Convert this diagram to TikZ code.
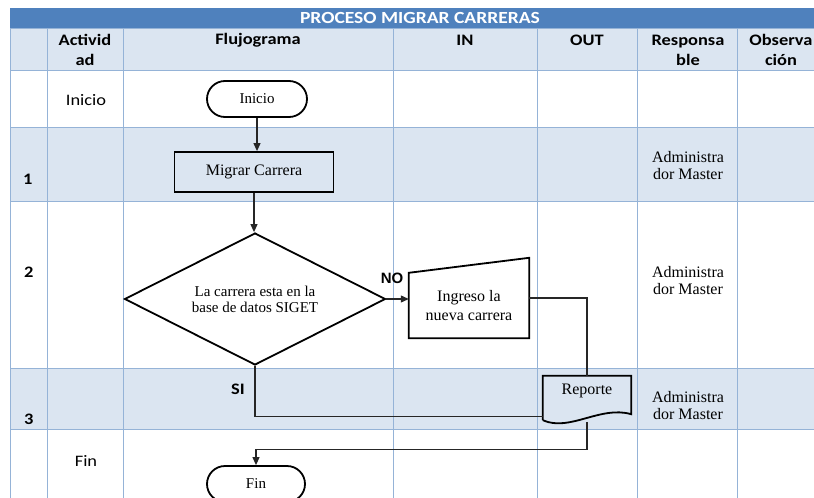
\documentclass[tikz,border=0pt]{standalone}
\usepackage{fontspec}
\setmainfont{Liberation Serif}
\newfontfamily\calfont[FakeStretch=1.15]{Carlito}
\newfontfamily\arialfont{Liberation Sans}
\usepackage{xcolor}
\definecolor{titlebar}{RGB}{79,129,189}
\definecolor{rowbg}{RGB}{219,229,241}
\definecolor{gridline}{RGB}{149,179,215}
\usetikzlibrary{shapes.geometric,arrows.meta,positioning,calc}
\newcommand{\hdrfont}{\calfont\bfseries\fontsize{16}{20}\selectfont}
\newcommand{\serifsize}{\fontsize{16}{17}\selectfont}

\begin{document}
\begin{tikzpicture}[
  x=1pt, y=-1pt,
  hdr/.style={font=\hdrfont, align=center, inner sep=0pt},
  rownum/.style={font=\calfont\bfseries\fontsize{16}{20}\selectfont, anchor=west, inner sep=0pt},
  actlabel/.style={font=\calfont\fontsize{16}{20}\selectfont, inner sep=0pt},
  resp/.style={font=\serifsize, align=center, inner sep=0pt},
  terminal/.style={draw, line width=1.8pt, rounded corners=18pt, minimum width=100pt, minimum height=36pt, inner sep=0pt, font=\fontsize{15}{17}\selectfont},
  process/.style={draw, line width=1.8pt, minimum width=159pt, minimum height=40pt, inner sep=0pt, font=\fontsize{16}{17}\selectfont},
  decision/.style={diamond, draw, line width=1.8pt, shape aspect=2, minimum width=261pt, minimum height=132pt, inner sep=0pt, align=center, font=\fontsize{15}{16}\selectfont},
  hidden/.style={inner sep=0pt},
  shapeline/.style={draw, line width=1.8pt, line join=miter},
  txt/.style={align=center, inner sep=0pt, font=\fontsize{16}{19}\selectfont},
  link/.style={line width=1.1pt, color=black!85},
  flow/.style={link, -{Triangle[length=8pt,width=7pt]}}
]
\useasboundingbox (0,0) rectangle (814,498);
\fill[white] (0,0) rectangle (814,498);

% table
\fill[titlebar] (10,8) rectangle (814,28);
\fill[rowbg] (10,28) rectangle (814,70);
\fill[rowbg] (10,127) rectangle (814,201);
\fill[rowbg] (10,368) rectangle (814,429);
\foreach \x in {10,47,123,393,537,637,737}
  \draw[gridline, line width=1pt] (\x,28) -- (\x,498);
\foreach \y in {28,70,127,201,368,429}
  \draw[gridline, line width=1pt] (10,\y) -- (814,\y);

\node[font=\calfont\bfseries\fontsize{17}{20}\selectfont, text=white, inner sep=0pt] (title) at (420,18) {PROCESO MIGRAR CARRERAS};
\node[hdr] (hact) at (85,50) {Activid\\ad};
\node[hdr] (hflu) at (258,40) {Flujograma};
\node[hdr] (hin) at (465,40) {IN};
\node[hdr] (hout) at (587,40) {OUT};
\node[hdr] (hresp) at (688,50) {Responsa\\ble};
\node[hdr] (hobs) at (781,50) {Observa\\ción};

% actividad column
\node[actlabel] (actini) at (86,100) {Inicio};
\node[rownum] (num1) at (23,179) {1};
\node[rownum] (num2) at (24,272) {2};
\node[rownum] (num3) at (24,419) {3};
\node[actlabel] (actfin) at (86,461) {Fin};

% responsable column
\node[resp] (resp1) at (688,166) {Administra\\dor Master};
\node[resp] (resp2) at (688,281) {Administra\\dor Master};
\node[resp] (resp3) at (688,406) {Administra\\dor Master};

% flujograma
\node[terminal] (inicio) at (257,99) {Inicio};
\node[process] (migrar) at (254,172) {Migrar Carrera};
\node[decision] (dec) at (255,299) {La carrera esta en la\\base de datos SIGET};
\node[hidden, minimum width=120pt, minimum height=80pt] (ingreso) at (469,298) {};
\draw[shapeline] (ingreso.south west) -- (ingreso.south east) -- (ingreso.north east)
  -- ($(ingreso.north west)+(0,15)$) -- cycle;
\node[txt] (ingresotxt) at ($(ingreso.center)+(0,8)$) {Ingreso la\\nueva carrera};
\node[hidden, minimum width=88pt, minimum height=42pt] (reporte) at (587,397) {};
\draw[shapeline] ($(reporte.south west)+(0,2)$) -- (reporte.north west) -- (reporte.north east)
  -- ($(reporte.south east)+(0,-4)$)
  .. controls ($(reporte.south east)+(-31,-13)$) and ($(reporte.south west)+(27,14)$) .. ($(reporte.south west)+(0,2)$);
\node[txt] (reportetxt) at ($(reporte.center)+(0,-6)$) {Reporte};
\node[terminal, minimum width=98pt] (fin) at (256,484) {Fin};

\node[font=\arialfont\bfseries\fontsize{15}{17}\selectfont, inner sep=0pt] (no) at (392,278) {NO};
\node[font=\calfont\bfseries\fontsize{16}{20}\selectfont, inner sep=0pt] (si) at (238,389) {SI};

\draw[flow] (inicio.south) -- (inicio.south |- migrar.north);
\draw[flow] (migrar.south) -- (migrar.south |- dec.north);
\draw[flow] (dec.east) -- (dec.east -| ingreso.west);
\draw[link] (ingreso.east) -| (reporte.north);
\draw[link] (dec.south) |- ($(reporte.south west)+(0,-2)$);
\draw[flow] ($(reporte.south)+(0,4)$) -- ++(0,27) -| (fin.north);
\end{tikzpicture}
\end{document}
